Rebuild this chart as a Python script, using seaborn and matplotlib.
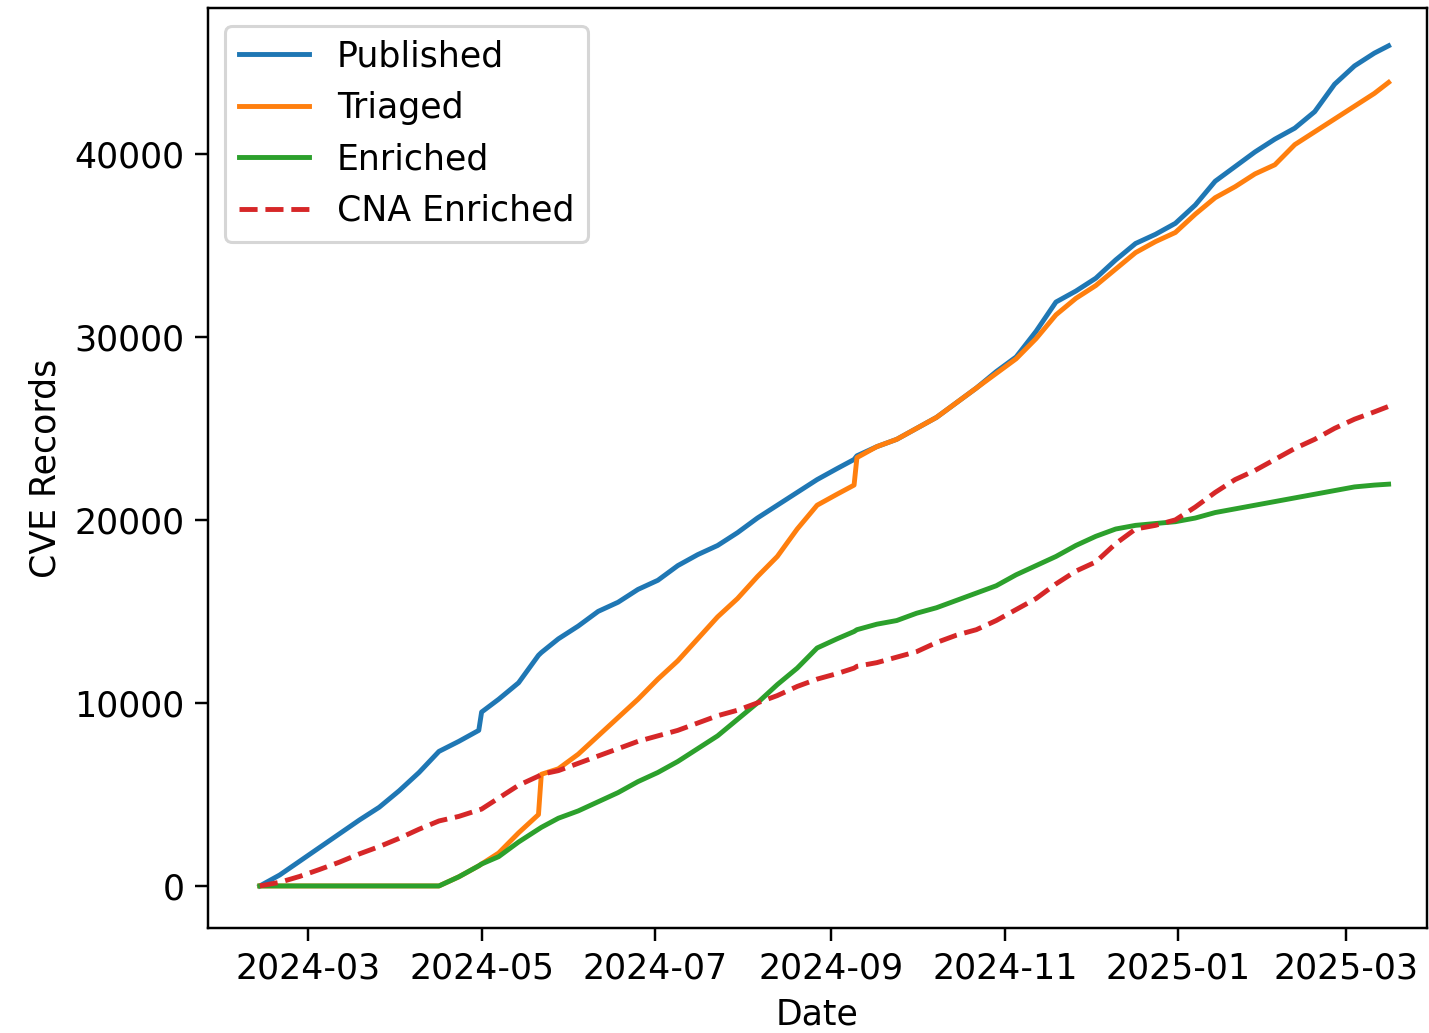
import pandas as pd
import matplotlib
matplotlib.use("Agg")
import matplotlib.pyplot as plt
import matplotlib.dates as mdates
import seaborn as sns

plt.rcParams["font.size"] = 11.4
plt.rcParams["lines.linewidth"] = 1.6
plt.rcParams["xtick.major.size"] = 4.2
plt.rcParams["ytick.major.size"] = 4.2

# dates (roughly weekly, with extra points at the jumps)
dates = [
    "2024-02-13", "2024-02-20", "2024-02-27", "2024-03-05", "2024-03-12",
    "2024-03-19", "2024-03-26", "2024-04-02", "2024-04-09", "2024-04-16",
    "2024-04-23", "2024-04-30", "2024-05-01", "2024-05-07", "2024-05-14",
    "2024-05-21", "2024-05-22", "2024-05-28", "2024-06-04", "2024-06-11",
    "2024-06-18", "2024-06-25", "2024-07-02", "2024-07-09", "2024-07-16",
    "2024-07-23", "2024-07-30", "2024-08-06", "2024-08-13", "2024-08-20",
    "2024-08-27", "2024-09-03", "2024-09-09", "2024-09-10", "2024-09-17",
    "2024-09-24", "2024-10-01", "2024-10-08", "2024-10-15", "2024-10-22",
    "2024-10-29", "2024-11-05", "2024-11-12", "2024-11-19", "2024-11-26",
    "2024-12-03", "2024-12-10", "2024-12-17", "2024-12-24", "2024-12-31",
    "2025-01-07", "2025-01-14", "2025-01-21", "2025-01-28", "2025-02-04",
    "2025-02-11", "2025-02-18", "2025-02-25", "2025-03-04", "2025-03-11",
    "2025-03-16",
]

published = [
    0, 600, 1350, 2100, 2850,
    3600, 4300, 5200, 6200, 7350,
    7900, 8500, 9500, 10200, 11100,
    12600, 12750, 13500, 14200, 15000,
    15500, 16200, 16700, 17500, 18100,
    18600, 19300, 20100, 20800, 21500,
    22200, 22800, 23300, 23500, 24000,
    24400, 25000, 25600, 26400, 27200,
    28100, 28900, 30300, 31900, 32500,
    33200, 34200, 35100, 35600, 36200,
    37200, 38500, 39300, 40100, 40800,
    41400, 42300, 43800, 44800, 45500,
    45900,
]

triaged = [
    0, 0, 0, 0, 0,
    0, 0, 0, 0, 0,
    500, 1100, 1200, 1800, 2900,
    3900, 6100, 6400, 7200, 8200,
    9200, 10200, 11300, 12300, 13500,
    14700, 15700, 16900, 18000, 19500,
    20800, 21400, 21900, 23400, 24000,
    24400, 25000, 25600, 26400, 27200,
    28000, 28800, 29900, 31200, 32100,
    32800, 33700, 34600, 35200, 35700,
    36700, 37600, 38200, 38900, 39400,
    40500, 41200, 41900, 42600, 43300,
    43900,
]

enriched = [
    0, 0, 0, 0, 0,
    0, 0, 0, 0, 0,
    500, 1100, 1200, 1600, 2400,
    3100, 3200, 3700, 4100, 4600,
    5100, 5700, 6200, 6800, 7500,
    8200, 9100, 10000, 11000, 11900,
    13000, 13500, 13900, 14000, 14300,
    14500, 14900, 15200, 15600, 16000,
    16400, 17000, 17500, 18000, 18600,
    19100, 19500, 19700, 19800, 19900,
    20100, 20400, 20600, 20800, 21000,
    21200, 21400, 21600, 21800, 21900,
    21950,
]

cna_enriched = [
    0, 200, 520, 900, 1300,
    1750, 2150, 2600, 3100, 3550,
    3800, 4150, 4200, 4800, 5500,
    6000, 6100, 6300, 6700, 7100,
    7500, 7900, 8200, 8500, 8900,
    9300, 9600, 10000, 10400, 10900,
    11300, 11600, 11900, 12000, 12200,
    12500, 12800, 13300, 13700, 14000,
    14500, 15100, 15700, 16500, 17200,
    17700, 18700, 19500, 19700, 20000,
    20700, 21500, 22200, 22700, 23300,
    23900, 24400, 25000, 25500, 25900,
    26200,
]

df = pd.DataFrame({
    "Date": pd.to_datetime(dates),
    "Published": published,
    "Triaged": triaged,
    "Enriched": enriched,
    "CNA Enriched": cna_enriched,
})

fig, ax = plt.subplots(figsize=(1429 / 220, 1033 / 220), dpi=220)
fig.subplots_adjust(left=0.1456, right=0.9986, top=0.992, bottom=0.1016)

sns.lineplot(data=df, x="Date", y="Published", ax=ax, color="C0", label="Published")
sns.lineplot(data=df, x="Date", y="Triaged", ax=ax, color="C1", label="Triaged")
sns.lineplot(data=df, x="Date", y="Enriched", ax=ax, color="C2", label="Enriched")
sns.lineplot(data=df, x="Date", y="CNA Enriched", ax=ax, color="C3",
             linestyle="--", label="CNA Enriched")

ax.set_xlim(pd.Timestamp("2024-01-25 19:00"), pd.Timestamp("2025-03-29 12:00"))
ax.set_ylim(-2300, 47950)
ax.xaxis.set_major_locator(mdates.MonthLocator(bymonth=[1, 3, 5, 7, 9, 11]))
ax.xaxis.set_major_formatter(mdates.DateFormatter("%Y-%m"))

ax.set_xlabel("Date")
ax.set_ylabel("CVE Records")
ax.legend(loc="upper left")

fig.savefig("out.png", dpi=220)
